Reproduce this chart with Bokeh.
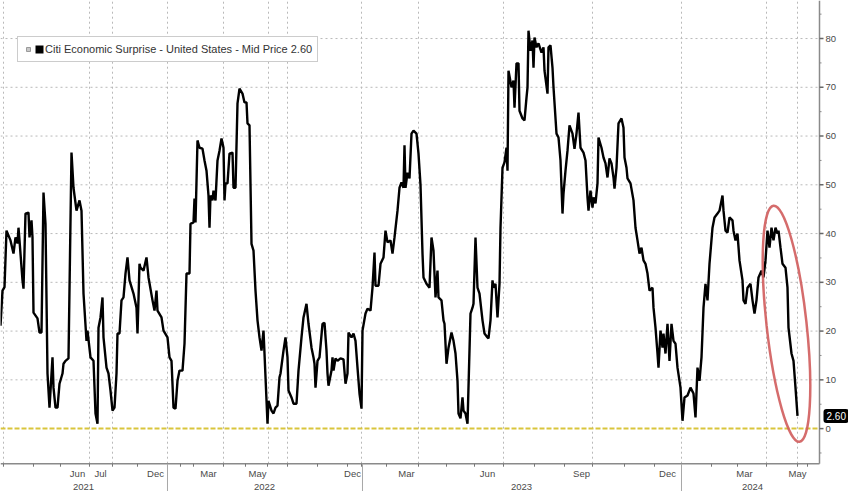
from bokeh.plotting import figure
from bokeh.models import Range1d, Legend, LegendItem
from bokeh.core.properties import value
from bokeh.embed import file_html
from bokeh.resources import INLINE

# ---------------- data ----------------
series_name = "Citi Economic Surprise - United States - Mid Price"
last_value = 2.60

obs = [0, 2, 4, 6, 10, 13, 15, 17, 18, 19, 22, 23, 25, 28, 29, 31, 32, 33, 37, 39,
       41, 43, 45, 47, 49, 52, 53, 55, 57, 59, 62, 63, 65, 68, 71, 73, 76, 79, 81, 83,
       86, 87, 90, 93, 95, 97, 98, 100, 102, 103, 106, 108, 110, 112, 114, 116, 117, 119, 121, 123,
       125, 127, 129, 133, 136, 137, 139, 140, 143, 146, 148, 152, 154, 156, 157, 161, 163, 167, 169, 171,
       173, 175, 177, 179, 182, 184, 186, 189, 190, 193, 194, 195, 197, 199, 202, 204, 206, 208, 209, 210,
       212, 213, 215, 217, 219, 221, 223, 224, 225, 227, 229, 232, 233, 235, 237, 239, 242, 244, 246, 247,
       249, 251, 253, 255, 257, 259, 261, 263, 264, 267, 268, 271, 273, 275, 277, 279, 280, 283, 285, 287,
       288, 291, 293, 296, 298, 301, 303, 306, 308, 311, 313, 314, 315, 317, 319, 322, 324, 326, 327, 328,
       331, 332, 333, 335, 337, 340, 343, 345, 347, 348, 351, 353, 355, 357, 359, 361, 362, 365, 367, 370,
       372, 374, 375, 378, 380, 383, 385, 387, 390, 392, 394, 397, 399, 401, 403, 404, 405, 407, 409, 411,
       413, 416, 418, 420, 422, 423, 426, 429, 431, 433, 435, 437, 438, 441, 443, 444, 446, 448, 451, 453,
       455, 457, 458, 460, 462, 463, 465, 467, 470, 472, 473, 475, 477, 479, 482, 484, 487, 488, 490, 492,
       493, 495, 497, 499, 500, 502, 504, 506, 507, 508, 511, 513, 514, 516, 518, 519, 522, 524, 526, 527,
       528, 530, 532, 533, 534, 536, 538, 541, 543, 544, 547, 548, 550, 552, 553, 556, 558, 560, 562, 563,
       565, 567, 569, 572, 574, 576, 578, 580, 583, 585, 587, 588, 590, 592, 593, 595, 597, 598, 601, 603,
       605, 607, 609, 611, 613, 614, 616, 618, 621, 623, 624, 626, 627, 630, 633, 635, 637, 639, 641, 643,
       645, 647, 649, 652, 653, 655, 657, 658, 660, 662, 663, 665, 667, 669, 671, 673, 675, 677, 680, 682,
       684, 687, 690, 693, 695, 697, 699, 701, 703, 705, 707, 709, 712, 714, 717, 719, 722, 723, 725, 727,
       729, 732, 733, 735, 737, 739, 742, 743, 745, 747, 750, 752, 754, 756, 758, 761, 763, 765, 767, 769,
       771, 773, 775, 777, 778, 780, 782, 785, 787, 788, 791, 793, 795, 797]

values = [21.1, 28.3, 29.0, 40.6, 38.6, 35.9, 39.2, 38.0, 41.2, 38.6, 30.4, 28.7, 44.1, 44.3, 39.2, 42.7, 39.2, 23.8, 22.6, 19.7,
          19.7, 48.4, 42.0, 11.3, 4.3, 14.6, 8.4, 4.3, 4.3, 9.2, 11.3, 13.3, 13.9, 14.4, 56.6, 49.4, 44.7, 46.8, 44.7, 27.7,
          18.0, 20.1, 14.6, 13.9, 3.1, 1.0, 20.7, 22.8, 26.9, 18.7, 12.5, 11.3, 7.8, 3.7, 4.3, 11.3, 19.5, 19.5, 26.3, 26.9,
          31.8, 35.1, 30.4, 27.7, 24.8, 19.5, 33.8, 33.0, 32.4, 35.1, 31.0, 26.3, 24.2, 28.3, 24.2, 22.8, 20.1, 18.7, 14.6, 13.9,
          4.3, 4.1, 9.8, 11.9, 11.9, 17.4, 31.8, 31.8, 42.0, 42.3, 47.2, 42.3, 59.1, 57.6, 57.4, 55.0, 52.9, 47.8, 41.2, 47.8,
          46.8, 48.8, 46.8, 55.0, 57.0, 59.5, 57.6, 46.8, 50.3, 50.3, 56.4, 56.6, 49.4, 49.4, 66.7, 69.7, 68.7, 66.9, 66.9, 62.6,
          62.2, 37.9, 36.5, 28.3, 22.2, 18.7, 16.0, 20.1, 15.4, 1.0, 5.7, 3.7, 3.1, 4.3, 4.7, 10.5, 11.3, 16.0, 18.7, 14.6,
          7.8, 6.4, 5.1, 5.1, 11.9, 18.7, 22.8, 25.6, 21.5, 16.6, 14.6, 13.3, 8.4, 13.9, 14.6, 21.5, 21.7, 16.0, 11.3, 8.8,
          11.9, 14.6, 11.9, 14.4, 13.9, 14.4, 14.2, 9.2, 11.3, 19.7, 18.7, 19.5, 18.0, 12.5, 7.2, 4.1, 20.1, 23.6, 24.6, 24.2,
          28.9, 36.1, 29.3, 29.3, 33.8, 35.1, 40.6, 38.2, 38.6, 35.9, 39.2, 44.7, 49.4, 50.5, 49.4, 58.1, 49.4, 52.5, 51.3, 60.5,
          61.1, 60.5, 56.4, 50.0, 35.9, 31.0, 29.7, 28.9, 39.2, 36.5, 26.9, 32.4, 26.9, 26.3, 22.2, 21.5, 13.3, 16.6, 19.7, 18.0,
          15.4, 9.8, 3.1, 2.1, 6.4, 3.7, 3.1, 1.0, 23.6, 24.8, 25.6, 39.2, 28.9, 27.7, 22.2, 19.5, 18.7, 18.5, 22.2, 30.4,
          28.9, 29.7, 22.8, 29.7, 41.2, 53.5, 54.6, 57.6, 52.9, 73.4, 70.0, 71.4, 65.8, 74.9, 74.9, 65.2, 63.6, 63.2, 67.9, 70.0,
          81.6, 77.5, 79.6, 74.0, 80.2, 78.2, 79.0, 77.1, 78.2, 73.4, 68.7, 78.2, 78.6, 74.0, 70.0, 60.5, 59.7, 55.0, 44.1, 48.2,
          52.9, 57.0, 62.2, 60.5, 57.4, 60.5, 64.8, 57.6, 56.6, 55.0, 47.4, 44.7, 48.8, 45.3, 47.4, 46.2, 50.3, 59.7, 57.6, 55.6,
          54.4, 51.5, 55.4, 54.4, 51.5, 49.2, 53.5, 62.6, 63.6, 61.7, 55.6, 53.5, 51.3, 50.3, 46.8, 41.2, 38.6, 35.9, 37.1, 34.5,
          33.8, 31.8, 28.3, 28.9, 24.8, 20.7, 15.4, 12.5, 20.1, 16.6, 19.5, 15.4, 21.5, 13.9, 21.5, 18.0, 17.4, 12.5, 8.4, 1.6,
          6.4, 6.8, 8.4, 7.2, 2.3, 12.5, 9.8, 14.6, 24.8, 29.7, 26.3, 33.8, 41.2, 43.3, 44.1, 44.7, 47.8, 44.7, 40.6, 40.2,
          43.3, 42.7, 40.6, 38.6, 40.0, 34.5, 30.4, 26.3, 25.6, 28.9, 29.7, 26.3, 23.6, 26.3, 31.0, 32.4, 31.0, 34.5, 40.6, 37.1,
          41.2, 38.6, 41.2, 40.0, 40.6, 37.1, 33.8, 33.0, 28.9, 20.7, 15.4, 13.9, 8.4, 2.6]

# time-axis labels and marks (positions on the observation axis)
month_ticks = [77, 100, 155, 208, 257, 352, 406, 487, 581, 667, 744, 797]
month_labels = ["Jun", "Jul", "Dec", "Mar", "May", "Dec", "Mar", "Jun", "Sep", "Dec", "Mar", "May"]
year_ticks = [83, 264, 521, 752]
year_labels = ["2021", "2022", "2023", "2024"]
year_bounds = [167, 362, 681]
x_grid = [3, 89, 112, 167, 223, 268, 287, 361, 418, 503, 592, 681, 766, 797]
x_minor = [3, 33, 60, 89, 112, 137, 167, 180, 193, 223, 245, 267, 287, 317, 347, 361, 386, 418,
           446, 474, 503, 534, 564, 592, 624, 654, 681, 711, 737, 766, 797, 807]

# value-axis labels and marks
y_ticks = [0, 10, 20, 30, 40, 50, 60, 70, 80]
y_minor = [-5, 5, 15, 25, 35, 45, 55, 65, 75, 85]
y_grid = [10, 20, 30, 40, 50, 60, 70, 80]

# chart extents
x_lo, x_hi = 0, 848          # observation range of the whole picture
y_lo, y_hi = -12.9, 87.8     # value range of the whole picture
axis_obs = 819               # where the value axis stands
axis_level = -7.2            # where the time axis stands

highlight_obs = 786          # red ellipse around the recent drop
highlight_value = 21.5

FONT = "Liberation Sans"
TXT = "#4a4a4a"
GRID = "#b9b9b9"
AXIS = "#8a8a8a"

p = figure(width=848, height=491, output_backend="svg", toolbar_location=None,
           x_range=Range1d(x_lo, x_hi), y_range=Range1d(y_lo, y_hi),
           x_axis_location=None, y_axis_location=None,
           min_border_left=0, min_border_top=0, min_border_right=0, min_border_bottom=0)
p.outline_line_color = None
p.background_fill_color = "white"
p.border_fill_color = "white"
p.xgrid.visible = False
p.ygrid.visible = False

# dotted grid, bounded by the two axes
p.segment(x0=x_grid, x1=x_grid, y0=[axis_level] * len(x_grid), y1=[y_hi] * len(x_grid),
          line_color=GRID, line_dash="2 3", line_width=1)
p.segment(x0=[x_lo] * len(y_grid), x1=[axis_obs] * len(y_grid), y0=y_grid, y1=y_grid,
          line_color=GRID, line_dash="2 3", line_width=1)

# zero line
p.segment(x0=[x_lo], x1=[axis_obs], y0=[0], y1=[0], line_color="#d9c53c",
          line_width=2, line_dash="5 2")

# series
p.line(obs, values, line_color="black", line_width=2.4)

# highlight ellipse
p.ellipse(x=[highlight_obs], y=[highlight_value], width=40, height=238,
          width_units="screen", height_units="screen", angle=0.11,
          fill_color=None, line_color="#d05c5c", line_width=2.5, line_alpha=0.9)

# ---- time axis (bottom) ----
p.segment(x0=[x_lo], x1=[axis_obs], y0=[axis_level], y1=[axis_level],
          line_color=AXIS, line_width=1.5)
p.ray(x=x_minor, y=[axis_level] * len(x_minor), length=3, length_units="screen",
      angle=-1.5708, line_color="#777777", line_width=1)
p.ray(x=year_bounds, y=[axis_level] * len(year_bounds), length=30, length_units="screen",
      angle=-1.5708, line_color="#a8a8a8", line_width=1)
p.text(x=month_ticks, y=[axis_level] * len(month_ticks), text=month_labels,
       y_offset=10, text_align="center", text_baseline="middle",
       text_font=value(FONT), text_font_size="9.5px", text_color=TXT)
p.text(x=year_ticks, y=[axis_level] * len(year_ticks), text=year_labels,
       y_offset=23, text_align="center", text_baseline="middle",
       text_font=value(FONT), text_font_size="9.5px", text_color=TXT)

# ---- value axis (right) ----
p.segment(x0=[axis_obs], x1=[axis_obs], y0=[axis_level], y1=[y_hi], line_color=AXIS, line_width=1.5)
p.ray(x=[axis_obs] * len(y_ticks), y=y_ticks, length=4, length_units="screen", angle=0,
      line_color="#666666", line_width=1.5)
p.ray(x=[axis_obs] * len(y_minor), y=y_minor, length=2, length_units="screen", angle=0,
      line_color="#888888", line_width=1)
p.text(x=[axis_obs] * len(y_ticks), y=y_ticks, text=[str(v) for v in y_ticks],
       x_offset=6, text_align="left", text_baseline="middle",
       text_font=value(FONT), text_font_size="9.5px", text_color=TXT)

# last value tag
p.text(x=[axis_obs], y=[last_value], text=[f"{last_value:.2f}"],
       x_offset=4, text_align="left", text_baseline="middle",
       text_font=value(FONT), text_font_size="10px", text_color="white",
       background_fill_color="black", padding=3, border_radius=3)

# legend swatches: zero-size glyphs on the last observation
swatch_small = p.scatter(x=[obs[-1]], y=[values[-1]], marker="square", size=0,
                         fill_color="#c8c8c8", line_color="#9a9a9a")
swatch = p.quad(left=[obs[-1]], right=[obs[-1]], top=[values[-1]], bottom=[values[-1]],
                fill_color="black", line_color=None)
legend = Legend(items=[LegendItem(label="", renderers=[swatch_small]),
                       LegendItem(label=f"{series_name} {last_value:.2f}", renderers=[swatch])],
                location=(17, 429), orientation="horizontal",
                border_line_color="#9a9a9a", border_line_width=1,
                background_fill_color="white", background_fill_alpha=1,
                padding=5, margin=0, spacing=0, label_width=0,
                glyph_width=10, glyph_height=10, label_standoff=1, label_height=14,
                label_text_font=FONT, label_text_font_size="11px", label_text_color="#333333")
p.add_layout(legend)

open("out.html", "w").write(file_html(p, INLINE))
